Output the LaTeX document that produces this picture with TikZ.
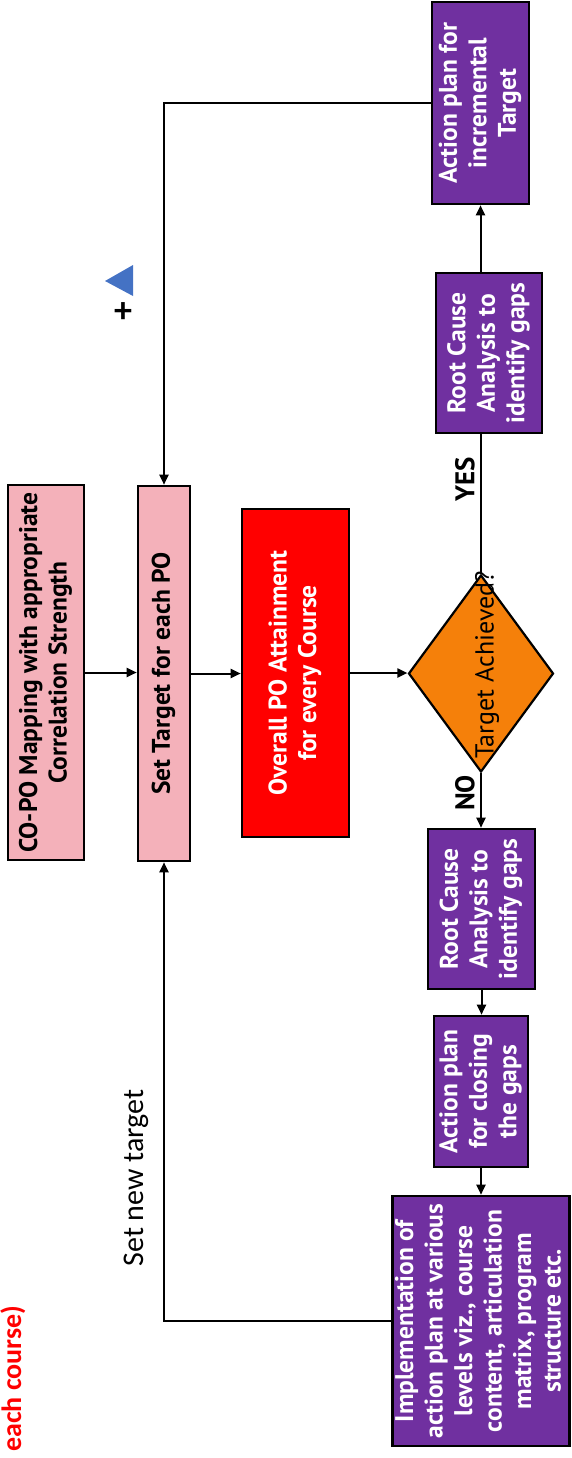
\documentclass[tikz,border=0pt]{standalone}
\usepackage{fontspec}
\usetikzlibrary{shapes.geometric,arrows.meta}
\newfontfamily\gfont{PT Sans}
\newfontfamily\cfont{Carlito}
\definecolor{pinkc}{RGB}{244,177,186}
\definecolor{purplec}{RGB}{112,48,160}
\definecolor{orangec}{RGB}{245,128,10}
\definecolor{bluec}{RGB}{68,114,196}
\newcommand\rt[1]{\rotatebox{90}{\makebox[0pt]{\begin{tabular}{@{}c@{}}#1\end{tabular}}}}
\begin{document}
\begin{tikzpicture}[x=1pt,y=-1pt,
  box/.style={draw=black,line width=2.6pt,inner sep=0pt,font=\gfont\bfseries\fontsize{25.5}{29.5}\selectfont},
  pinkbox/.style={box,fill=pinkc},
  purplebox/.style={box,fill=purplec,text=white},
  redbox/.style={box,fill=red,text=white},
  arr/.style={line width=2pt,-{Triangle[length=10pt,width=9pt]}},
  ln/.style={line width=2pt}]
\useasboundingbox (0,0) rectangle (572,1458);
% boxes
\node[pinkbox,minimum width=76pt,minimum height=375pt] (copo) at (46,672.5)
  {\rt{CO-PO Mapping with appropriate\\Correlation Strength}};
\node[pinkbox,minimum width=52pt,minimum height=375pt] (st) at (164,673.5)
  {\rt{Set Target for each PO}};
\node[redbox,minimum width=107pt,minimum height=328pt] (ov) at (295.5,673)
  {\rt{Overall PO Attainment\\for every Course}};
\node[diamond,draw=black,line width=2.2pt,fill=orangec,inner sep=0pt,
  minimum width=145pt,minimum height=197pt] (dia) at (481,673.5) {};
\node[purplebox,minimum width=106pt,minimum height=160pt] (rc1) at (489,353)
  {\rt{Root Cause\\Analysis to\\identify gaps}};
\node[purplebox,minimum width=97pt,minimum height=202pt] (apinc) at (480.5,103)
  {\rt{Action plan for\\incremental\\Target}};
\node[purplebox,minimum width=107pt,minimum height=160pt] (rc2) at (481.5,909)
  {\rt{Root Cause\\Analysis to\\identify gaps}};
\node[purplebox,minimum width=94pt,minimum height=151pt] (apc) at (481,1091.5)
  {\rt{Action plan\\for closing\\the gaps}};
\node[purplebox,minimum width=176pt,minimum height=250pt] (impl) at (481,1321)
  {\rt{Implementation of\\action plan at various\\levels viz., course\\content, articulation\\matrix, program\\structure etc.}};
% texts
\node[rotate=90,font=\gfont\fontsize{26}{26}\selectfont] (dt) at (487,665) {Target Achieved?};
\node[rotate=90,font=\gfont\bfseries\fontsize{27}{27}\selectfont] (yes) at (465,479) {YES};
\node[rotate=90,font=\gfont\bfseries\fontsize{27}{27}\selectfont] (no) at (465,793) {NO};
\node[rotate=90,font=\cfont\fontsize{30}{30}\selectfont] (snt) at (136,1178) {Set new target};
\node[rotate=90,anchor=base west,inner sep=0pt,text=red,font=\cfont\bfseries\fontsize{28}{28}\selectfont] (ec) at (21,1452) {each course)};
\fill[bluec] (105,281) -- (133,265) -- (133,296) -- cycle;
\node[font=\cfont\bfseries\fontsize{36}{36}\selectfont] (plus) at (123,313) {+};
% connectors
\draw[arr] (copo.east) -- (st.west |- copo.east);
\draw[arr] (st.east) -- (ov.west |- st.east);
\draw[arr] (ov.east) -- (dia.west |- ov.east);
\draw[ln] (dia.north) -- (dia.north |- rc1.south);
\draw[arr] (apinc.south |- rc1.north) -- (apinc.south);
\draw[arr] (apinc.west) -| (st.north);
\draw[arr] (dia.south) -- (dia.south |- rc2.north);
\draw[arr] (rc2.south) -- (rc2.south |- apc.north);
\draw[arr] (apc.south) -- (apc.south |- impl.north);
\draw[arr] (impl.west) -| (st.south);
\end{tikzpicture}
\end{document}
